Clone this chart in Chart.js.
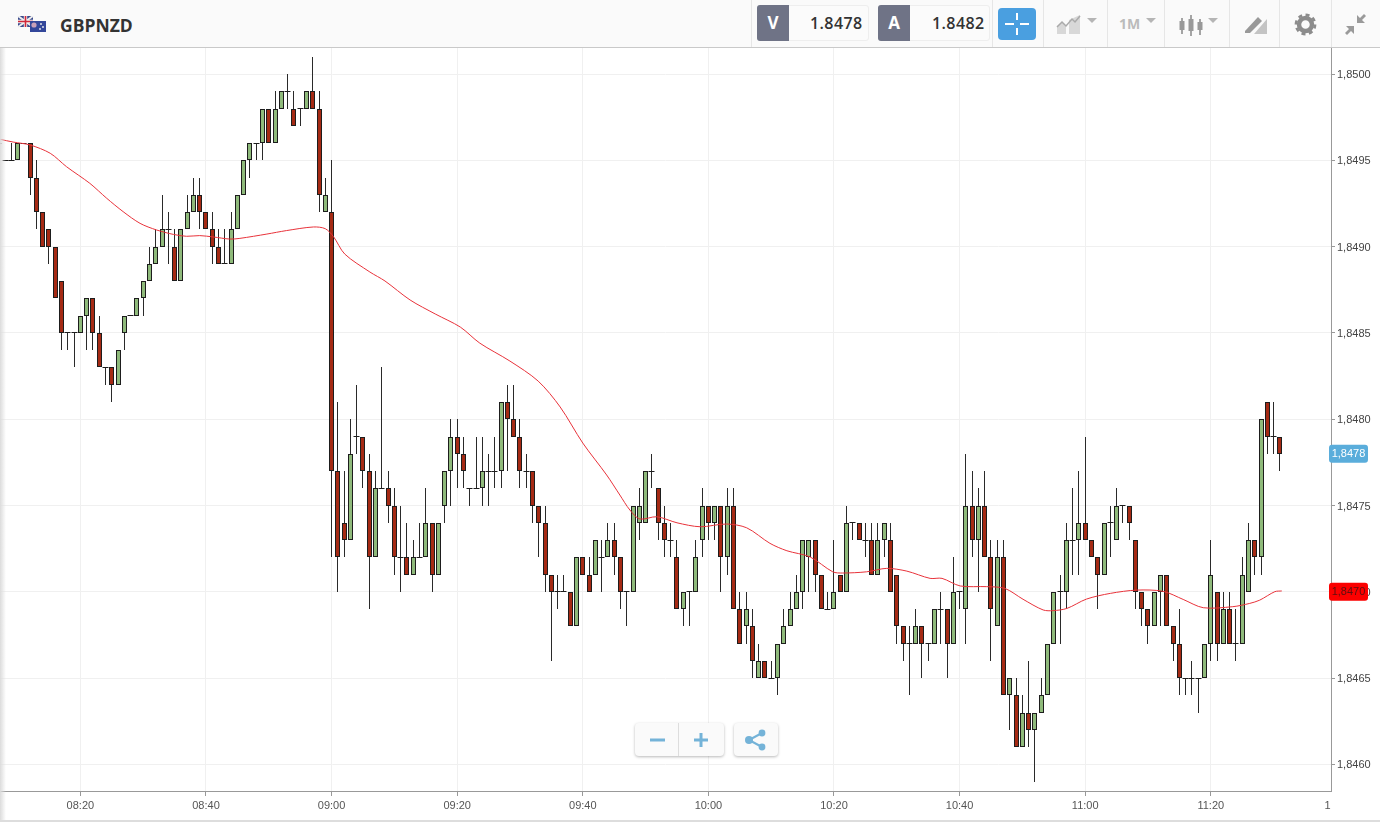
<!DOCTYPE html>
<html>
<head>
<meta charset="utf-8">
<title>GBPNZD</title>
<script src="https://cdn.jsdelivr.net/npm/chart.js@4"></script>
<style>
html, body { margin: 0; padding: 0; background: #fff; overflow: hidden; }
body { width: 1380px; height: 822px; position: relative; font-family: "Open Sans", sans-serif; }
#topo { position: absolute; left: 0; top: 0; width: 1380px; height: 47px; background: #fafafa; border-bottom: 1px solid #c9c9c9; }
#topo > * { position: absolute; }
#nome { left: 60px; top: 13px; font-size: 17.5px; line-height: 24px; font-weight: 700; color: #333; }
.sep { top: 0; width: 1px; height: 47px; background: #e6e6e6; }
.caixa { top: 5px; width: 112px; height: 36px; background: #fbfbfb; border: 1px solid #eee; border-radius: 3px; box-sizing: border-box; }
.letra { top: 5px; width: 32px; height: 36px; background: #6f7386; color: #fff; border-radius: 3px 0 0 3px; font-size: 17px; font-weight: 700; line-height: 36px; text-align: center; }
.preco { top: 11px; font-size: 16px; line-height: 24px; font-weight: 600; color: #333; letter-spacing: 0.4px; }
#mira { left: 998px; top: 8px; width: 38px; height: 32px; background: #4a9fe0; border-radius: 4px; }
#periodo { left: 1119px; top: 14px; font-size: 14px; line-height: 20px; font-weight: 700; color: #bbb; }
#grafico { position: absolute; left: 0; top: 48px; }
#sombra { position: absolute; left: 0; top: 48px; width: 6px; height: 773px; background: linear-gradient(to right, #dcdcdc, rgba(255,255,255,0)); }
#base { position: absolute; left: 0; top: 820px; width: 1380px; height: 2px; background: #ddd; }
.botao { position: absolute; top: 723px; height: 33px; background: #fafafa; border-radius: 4px; box-shadow: 0 1px 3px rgba(0,0,0,0.28); }
.botao svg { position: absolute; left: 0; top: 0; }
</style>
</head>
<body>
<div id="topo">
  <svg style="left:17px;top:16px" width="30" height="16" viewBox="0 0 30 16">
    <rect x="1" y="0" width="15" height="11" fill="#3a4a8c"/>
    <path d="M1 0L16 11M16 0L1 11" stroke="#eee" stroke-width="2"/>
    <path d="M8.5 0V11M1 5.5H16" stroke="#eee" stroke-width="3.4"/>
    <path d="M8.5 0V11M1 5.5H16" stroke="#d0273a" stroke-width="1.6"/>
    <rect x="13" y="5" width="16" height="11" fill="#33479a"/>
    <circle cx="17" cy="9" r="2.6" fill="#c9a0b8"/>
    <circle cx="24" cy="8" r="0.9" fill="#f0f0f0"/><circle cx="26" cy="11" r="0.9" fill="#f0f0f0"/><circle cx="23" cy="13" r="0.9" fill="#f0f0f0"/>
  </svg>
  <div id="nome">GBPNZD</div>
  <div class="sep" style="left:751px"></div>
  <div class="caixa" style="left:757px"></div>
  <div class="letra" style="left:757px">V</div>
  <div class="preco" style="left:810px">1.8478</div>
  <div class="caixa" style="left:878px"></div>
  <div class="letra" style="left:878px">A</div>
  <div class="preco" style="left:932px">1.8482</div>
  <div class="sep" style="left:992px"></div>
  <div id="mira">
    <svg width="38" height="32"><path d="M7 16H16M22 16H31M19 5V12M19 20V27" stroke="#fff" stroke-width="2"/></svg>
  </div>
  <div class="sep" style="left:1043px"></div>
  <svg style="left:1056px;top:14px" width="42" height="22">
    <path d="M1 20V12L6 8L10 12V20ZM13 20V6L24 1V20Z" fill="#d8d8d8"/>
    <path d="M1 13L6 8L10 12L16 5L19 8L24 2" stroke="#aaa" stroke-width="1.5" fill="none"/>
    <path d="M31 4H41L36 9Z" fill="#b5b5b5"/>
  </svg>
  <div class="sep" style="left:1107px"></div>
  <div id="periodo">1M</div>
  <svg style="left:1143px;top:14px" width="14" height="10"><path d="M3 4H13L8 9Z" fill="#b5b5b5"/></svg>
  <div class="sep" style="left:1164px"></div>
  <svg style="left:1178px;top:14px" width="42" height="24">
    <path d="M4 4V20M13 1V22M22 5V21" stroke="#888" stroke-width="1.5"/>
    <rect x="1.5" y="7" width="5" height="9" fill="#999"/><rect x="10.5" y="5" width="5" height="12" fill="#999"/><rect x="19.5" y="8" width="5" height="8" fill="#999"/>
    <path d="M30 4H40L35 9Z" fill="#b5b5b5"/>
  </svg>
  <div class="sep" style="left:1229px"></div>
  <svg style="left:1244px;top:15px" width="24" height="20">
    <path d="M1 16L14 2L18 6L6 18L1 18Z" fill="#999"/>
    <path d="M10 19H23V4Z" fill="#c4c4c4"/>
  </svg>
  <div class="sep" style="left:1279px"></div>
  <svg style="left:1294px;top:13px" width="23" height="23">
    <circle cx="11.5" cy="11.5" r="6.5" fill="none" stroke="#8c8c8c" stroke-width="4.5"/>
    <circle cx="11.5" cy="11.5" r="9.6" fill="none" stroke="#8c8c8c" stroke-width="2.6" stroke-dasharray="4 3.5"/>
  </svg>
  <div class="sep" style="left:1331px"></div>
  <svg style="left:1344px;top:13px" width="23" height="23">
    <path d="M13 10V2L16 5L20 1L22 3L18 7L21 10Z" fill="#9a9a9a"/>
    <path d="M10 13V21L7 18L3 22L1 20L5 16L2 13Z" fill="#9a9a9a"/>
  </svg>
</div>

<canvas id="grafico" width="1380" height="774"></canvas>
<div id="sombra"></div>
<div id="base"></div>

<div class="botao" style="left:635px;width:89px">
  <svg width="89" height="33">
    <path d="M43.5 0V33" stroke="#ddd"/>
    <path d="M15 17H30" stroke="#74b3d8" stroke-width="3"/>
    <path d="M59 17H73M66 10V24" stroke="#74b3d8" stroke-width="3"/>
  </svg>
</div>
<div class="botao" style="left:734px;width:44px">
  <svg width="44" height="33">
    <path d="M15 17L28 10M15 17L28 24" stroke="#74b3d8" stroke-width="2"/>
    <circle cx="15" cy="17" r="4" fill="#74b3d8"/><circle cx="28" cy="10" r="3.4" fill="#74b3d8"/><circle cx="28" cy="24" r="3.4" fill="#74b3d8"/>
  </svg>
</div>

<script>
// minutes since midnight of the first candle, then one candle per minute
const firstMinute = 487;

const opens = [
  1.8496,1.8495,1.8495,1.8495,1.8496,1.8496,1.8494,1.8492,1.8491,1.8490,
  1.8488,1.8485,1.8485,1.8485,1.8486,1.8487,1.8485,1.8483,1.8483,1.8482,
  1.8485,1.8486,1.8486,1.8487,1.8488,1.8489,1.8490,1.8491,1.8490,1.8488,
  1.8491,1.8492,1.8493,1.8492,1.8491,1.8490,1.8489,1.8489,1.8491,1.8493,
  1.8495,1.8496,1.8496,1.8498,1.8496,1.8498,1.8499,1.8498,1.8498,1.8498,
  1.8499,1.8498,1.8492,1.8492,1.8477,1.8474,1.8473,1.8479,1.8479,1.8477,
  1.8472,1.8476,1.8476,1.8475,1.8472,1.8472,1.8471,1.8472,1.8472,1.8474,
  1.8471,1.8475,1.8477,1.8479,1.8478,1.8476,1.8476,1.8476,1.8477,1.8477,
  1.8477,1.8481,1.8480,1.8479,1.8477,1.8477,1.8475,1.8474,1.8471,1.8470,
  1.8470,1.8470,1.8468,1.8472,1.8471,1.8471,1.8472,1.8472,1.8473,1.8472,
  1.8470,1.8470,1.8474,1.8474,1.8477,1.8476,1.8474,1.8473,1.8472,1.8469,
  1.8470,1.8470,1.8473,1.8475,1.8474,1.8475,1.8472,1.8475,1.8469,1.8468,
  1.8468,1.8465,1.8466,1.8465,1.8465,1.8467,1.8468,1.8469,1.8470,1.8472,
  1.8473,1.8471,1.8469,1.8469,1.8471,1.8470,1.8474,1.8474,1.8473,1.8473,
  1.8471,1.8473,1.8473,1.8471,1.8468,1.8467,1.8467,1.8468,1.8467,1.8467,
  1.8469,1.8469,1.8467,1.8470,1.8469,1.8475,1.8473,1.8475,1.8472,1.8468,
  1.8472,1.8464,1.8464,1.8461,1.8463,1.8462,1.8463,1.8464,1.8467,1.8470,
  1.8470,1.8473,1.8473,1.8474,1.8473,1.8472,1.8471,1.8474,1.8473,1.8475,
  1.8475,1.8473,1.8470,1.8469,1.8468,1.8470,1.8471,1.8468,1.8467,1.8465,
  1.8465,1.8465,1.8465,1.8467,1.8470,1.8467,1.8469,1.8467,1.8467,1.8470,
  1.8473,1.8472,1.8481,1.8479,1.8479
];
const closes = [
  1.8496,1.8495,1.8495,1.8496,1.8496,1.8494,1.8492,1.8490,1.8490,1.8487,
  1.8485,1.8485,1.8485,1.8486,1.8487,1.8485,1.8483,1.8483,1.8482,1.8484,
  1.8486,1.8486,1.8487,1.8488,1.8489,1.8490,1.8491,1.8491,1.8488,1.8491,
  1.8492,1.8493,1.8492,1.8491,1.8490,1.8489,1.8489,1.8491,1.8493,1.8495,
  1.8496,1.8496,1.8498,1.8496,1.8498,1.8499,1.8499,1.8497,1.8498,1.8499,
  1.8498,1.8493,1.8493,1.8477,1.8472,1.8473,1.8478,1.8479,1.8477,1.8472,
  1.8476,1.8476,1.8475,1.8472,1.8472,1.8471,1.8472,1.8472,1.8474,1.8471,
  1.8474,1.8477,1.8479,1.8478,1.8477,1.8476,1.8476,1.8477,1.8477,1.8477,
  1.8481,1.8480,1.8479,1.8477,1.8477,1.8475,1.8474,1.8471,1.8470,1.8470,
  1.8470,1.8468,1.8472,1.8471,1.8470,1.8473,1.8472,1.8473,1.8472,1.8470,
  1.8470,1.8475,1.8475,1.8477,1.8477,1.8474,1.8473,1.8473,1.8469,1.8470,
  1.8470,1.8472,1.8475,1.8474,1.8475,1.8472,1.8475,1.8469,1.8467,1.8469,
  1.8466,1.8466,1.8465,1.8465,1.8467,1.8468,1.8469,1.8470,1.8473,1.8473,
  1.8471,1.8469,1.8469,1.8470,1.8470,1.8474,1.8474,1.8473,1.8473,1.8471,
  1.8473,1.8474,1.8470,1.8468,1.8467,1.8467,1.8468,1.8467,1.8467,1.8469,
  1.8469,1.8467,1.8470,1.8470,1.8475,1.8473,1.8475,1.8472,1.8469,1.8472,
  1.8464,1.8465,1.8461,1.8463,1.8462,1.8463,1.8464,1.8467,1.8470,1.8470,
  1.8473,1.8473,1.8474,1.8473,1.8472,1.8471,1.8474,1.8474,1.8475,1.8475,
  1.8474,1.8470,1.8469,1.8468,1.8470,1.8471,1.8468,1.8467,1.8465,1.8465,
  1.8465,1.8465,1.8467,1.8471,1.8467,1.8469,1.8467,1.8467,1.8471,1.8473,
  1.8472,1.8480,1.8479,1.8479,1.8478
];
const highs = [
  1.8496,1.8495,1.8496,1.8496,1.8496,1.8496,1.8495,1.8492,1.8491,1.8490,
  1.8488,1.8485,1.8485,1.8486,1.8487,1.8487,1.8486,1.8483,1.8483,1.8484,
  1.8486,1.8486,1.8487,1.8488,1.8490,1.8491,1.8493,1.8492,1.8491,1.8491,
  1.8493,1.8494,1.8494,1.8492,1.8492,1.8491,1.8491,1.8492,1.8493,1.8495,
  1.8496,1.8496,1.8498,1.8498,1.8499,1.8499,1.8500,1.8499,1.8498,1.8499,
  1.8501,1.8499,1.8494,1.8495,1.8481,1.8477,1.8480,1.8482,1.8479,1.8478,
  1.8477,1.8483,1.8477,1.8476,1.8475,1.8474,1.8473,1.8474,1.8476,1.8474,
  1.8474,1.8477,1.8480,1.8480,1.8479,1.8476,1.8479,1.8479,1.8478,1.8479,
  1.8481,1.8482,1.8482,1.8480,1.8478,1.8477,1.8475,1.8475,1.8471,1.8471,
  1.8471,1.8470,1.8472,1.8472,1.8472,1.8473,1.8473,1.8474,1.8474,1.8472,
  1.8470,1.8475,1.8476,1.8477,1.8478,1.8476,1.8475,1.8474,1.8473,1.8470,
  1.8470,1.8473,1.8476,1.8475,1.8475,1.8475,1.8476,1.8476,1.8470,1.8470,
  1.8469,1.8467,1.8466,1.8466,1.8467,1.8469,1.8470,1.8471,1.8473,1.8473,
  1.8473,1.8471,1.8470,1.8473,1.8471,1.8475,1.8474,1.8474,1.8474,1.8474,
  1.8474,1.8474,1.8474,1.8471,1.8468,1.8468,1.8469,1.8468,1.8467,1.8469,
  1.8470,1.8469,1.8472,1.8470,1.8478,1.8477,1.8476,1.8477,1.8473,1.8473,
  1.8473,1.8465,1.8465,1.8464,1.8466,1.8463,1.8465,1.8467,1.8470,1.8471,
  1.8474,1.8476,1.8477,1.8479,1.8473,1.8472,1.8474,1.8475,1.8476,1.8475,
  1.8475,1.8473,1.8470,1.8469,1.8470,1.8471,1.8471,1.8468,1.8469,1.8465,
  1.8466,1.8465,1.8467,1.8473,1.8470,1.8470,1.8470,1.8469,1.8472,1.8474,
  1.8473,1.8480,1.8481,1.8481,1.8479
];
const lows = [
  1.8496,1.8495,1.8495,1.8495,1.8496,1.8493,1.8491,1.8490,1.8489,1.8487,
  1.8484,1.8484,1.8483,1.8485,1.8484,1.8484,1.8483,1.8482,1.8481,1.8482,
  1.8484,1.8486,1.8486,1.8486,1.8488,1.8489,1.8490,1.8489,1.8488,1.8488,
  1.8491,1.8492,1.8491,1.8491,1.8489,1.8489,1.8489,1.8489,1.8491,1.8493,
  1.8494,1.8495,1.8495,1.8496,1.8496,1.8498,1.8498,1.8497,1.8497,1.8498,
  1.8498,1.8492,1.8492,1.8472,1.8470,1.8472,1.8473,1.8478,1.8476,1.8469,
  1.8472,1.8476,1.8474,1.8471,1.8470,1.8471,1.8471,1.8472,1.8472,1.8470,
  1.8471,1.8474,1.8475,1.8476,1.8476,1.8475,1.8476,1.8475,1.8475,1.8476,
  1.8476,1.8477,1.8479,1.8476,1.8476,1.8474,1.8472,1.8470,1.8466,1.8469,
  1.8470,1.8468,1.8468,1.8471,1.8470,1.8471,1.8470,1.8472,1.8471,1.8469,
  1.8468,1.8470,1.8473,1.8474,1.8476,1.8473,1.8472,1.8472,1.8469,1.8468,
  1.8468,1.8470,1.8472,1.8473,1.8473,1.8470,1.8471,1.8469,1.8467,1.8467,
  1.8465,1.8465,1.8465,1.8465,1.8464,1.8467,1.8468,1.8469,1.8469,1.8470,
  1.8470,1.8469,1.8469,1.8469,1.8470,1.8470,1.8473,1.8473,1.8472,1.8471,
  1.8471,1.8472,1.8470,1.8467,1.8466,1.8464,1.8467,1.8465,1.8466,1.8467,
  1.8467,1.8465,1.8467,1.8469,1.8467,1.8472,1.8470,1.8472,1.8466,1.8468,
  1.8464,1.8462,1.8461,1.8461,1.8461,1.8459,1.8463,1.8464,1.8467,1.8467,
  1.8469,1.8471,1.8471,1.8473,1.8472,1.8469,1.8471,1.8472,1.8473,1.8474,
  1.8473,1.8469,1.8468,1.8467,1.8468,1.8468,1.8468,1.8466,1.8464,1.8464,
  1.8464,1.8463,1.8465,1.8466,1.8466,1.8467,1.8467,1.8466,1.8467,1.8470,
  1.8471,1.8471,1.8478,1.8478,1.8477
];

// red moving average
const maMinutes = [
  487.2,489.3,492,495.2,497.8,501.5,504.2,506.8,509.5,512.1,514.8,516.9,519,521.2,523.8,525.4,
  529.7,532.8,537.1,539,540.3,542.1,546.1,548.5,552.5,556.5,560.5,563.6,568.4,572.9,576.4,580,
  583.8,585.9,587.5,589.1,591.8,595,598.7,602.9,606.1,609.8,612.5,616.2,619.8,621.4,625.2,628.4,
  631.6,635.3,637.2,640.1,644.3,647.2,650.1,653.3,654.9,657.1,660.2,664,668.2,672.4,675.6,678.8,
  683.5,686.2,687.8,690.2,691.3
];
const maValues = [
  1.849622,1.849606,1.849589,1.849541,1.849463,1.849367,1.849280,1.849203,1.849135,1.849097,1.849071,1.849060,1.849064,1.849056,1.849044,1.849048,
  1.849073,1.849093,1.849114,1.849104,1.849058,1.848957,1.848853,1.848801,1.848691,1.848610,1.848534,1.848441,1.848337,1.848221,1.848071,1.847862,
  1.847677,1.847561,1.847474,1.847422,1.847435,1.847400,1.847377,1.847393,1.847371,1.847281,1.847238,1.847202,1.847116,1.847109,1.847116,1.847136,
  1.847120,1.847078,1.847078,1.847034,1.847030,1.847020,1.846957,1.846895,1.846891,1.846904,1.846958,1.846991,1.847010,1.847003,1.846956,1.846908,
  1.846914,1.846933,1.846952,1.847001,1.847005
];

const priceTicks = [1.8460, 1.8465, 1.8470, 1.8475, 1.8480, 1.8485, 1.8490, 1.8495, 1.8500];
const timeTicks = [500, 520, 540, 560, 580, 600, 620, 640, 660, 680, 698.6];
const timeLabels = ['08:20', '08:40', '09:00', '09:20', '09:40', '10:00', '10:20', '10:40', '11:00', '11:20', '1'];

const sellPrice = 1.8478;
const maLast = 1.8470;

const verde = '#8fba7b';
const vermelho = '#a52a14';
const contorno = '#1d1d1d';

// boxes with the last prices on the right axis
const etiquetas = {
    id: 'etiquetas',
    afterDraw(chart) {
        const ctx = chart.ctx;
        const y = chart.scales.y;
        [[sellPrice, '#5aaddb', '#fff'], [maLast, '#fb0000', '#5c1010']].forEach(function (e) {
            const py = y.getPixelForValue(e[0]);
            ctx.save();
            ctx.fillStyle = e[1];
            ctx.beginPath();
            ctx.roundRect(1329, py - 9, 39, 18, 3);
            ctx.fill();
            ctx.fillStyle = e[2];
            ctx.font = '11px "Liberation Sans"';
            ctx.textAlign = 'center';
            ctx.textBaseline = 'middle';
            ctx.fillText(e[0].toFixed(4).replace('.', ','), 1348.5, py + 0.5);
            ctx.restore();
        });
    }
};

// keep candles on whole pixels so the thin wicks stay sharp
const nitido = {
    id: 'nitido',
    beforeDatasetsDraw(chart) {
        chart.data.datasets.forEach(function (d, i) {
            if (d.type === 'line') return;
            chart.getDatasetMeta(i).data.forEach(function (el) {
                el.x = Math.floor(el.x) + 0.5;
                if (d.type === 'scatter') {
                    el.y = Math.floor(el.y) + 0.5;
                } else {
                    el.y = Math.round(el.y);
                    el.base = Math.round(el.base);
                }
            });
        });
    }
};

function semMargem(s) {
    s.paddingTop = 0;
    s.paddingBottom = 0;
    s.paddingLeft = 0;
    s.paddingRight = 0;
}

function criarGrafico() {
    const minutos = opens.map(function (v, i) { return firstMinute + i; });

    const corpos = minutos.map(function (m, i) { return { x: m, y: [opens[i], closes[i]] }; });
    const pavios = minutos.map(function (m, i) { return { x: m, y: [lows[i], highs[i]] }; });
    const doji = minutos
        .filter(function (m, i) { return opens[i] === closes[i]; })
        .map(function (m) { return { x: m, y: opens[m - firstMinute] }; });
    const media = maMinutes.map(function (m, i) { return { x: m, y: maValues[i] }; });

    new Chart(document.getElementById('grafico'), {
        type: 'bar',
        data: {
            datasets: [
                {
                    type: 'line',
                    data: media,
                    borderColor: '#e8323a',
                    borderWidth: 1,
                    pointRadius: 0,
                    tension: 0.3,
                    order: 0
                },
                {
                    type: 'scatter',
                    data: doji,
                    pointStyle: 'line',
                    pointRadius: 3,
                    borderColor: contorno,
                    borderWidth: 1,
                    order: 1
                },
                {
                    data: corpos,
                    backgroundColor: function (c) { return opens[c.dataIndex] <= closes[c.dataIndex] ? verde : vermelho; },
                    borderColor: contorno,
                    borderWidth: 1,
                    borderSkipped: false,
                    inflateAmount: 0,
                    barThickness: 5,
                    grouped: false,
                    order: 2
                },
                {
                    data: pavios,
                    backgroundColor: '#2a2a2a',
                    inflateAmount: 0,
                    barThickness: 1,
                    grouped: false,
                    order: 3
                }
            ]
        },
        options: {
            responsive: false,
            animation: false,
            layout: { padding: 0, autoPadding: false },
            plugins: { legend: { display: false }, tooltip: { enabled: false } },
            scales: {
                x: {
                    type: 'linear',
                    offset: false,
                    min: 487.2,
                    max: 699.14,
                    afterFit: function (s) { s.height = 31; semMargem(s); },
                    afterBuildTicks: function (s) { s.ticks = timeTicks.map(function (v) { return { value: v }; }); },
                    grid: {
                        offset: false,
                        color: function (c) { return c.tick && c.tick.value === 698.6 ? 'rgba(0,0,0,0)' : '#f0f0f0'; },
                        tickColor: function (c) { return c.tick && c.tick.value === 698.6 ? 'rgba(0,0,0,0)' : '#999'; },
                        tickLength: 5
                    },
                    border: { color: '#999', width: 1 },
                    ticks: {
                        autoSkip: false,
                        maxRotation: 0,
                        padding: 3,
                        color: '#555',
                        font: { family: '"Liberation Sans"', size: 11 },
                        callback: function (v) { return timeLabels[timeTicks.indexOf(v)]; }
                    }
                },
                y: {
                    position: 'right',
                    min: 1.845846,
                    max: 1.850151,
                    afterFit: function (s) { s.width = 49; semMargem(s); },
                    afterBuildTicks: function (s) { s.ticks = priceTicks.map(function (v) { return { value: v }; }); },
                    grid: { color: '#f0f0f0', tickColor: '#999', tickLength: 4 },
                    border: { color: '#999', width: 1 },
                    ticks: {
                        padding: 2,
                        labelOffset: 1,
                        color: '#444',
                        font: { family: '"Liberation Sans"', size: 11 },
                        callback: function (v) { return v.toFixed(4).replace('.', ','); }
                    }
                }
            }
        },
        plugins: [etiquetas, nitido]
    });
}

window.onload = function () {
    criarGrafico();
};
</script>
</body>
</html>
